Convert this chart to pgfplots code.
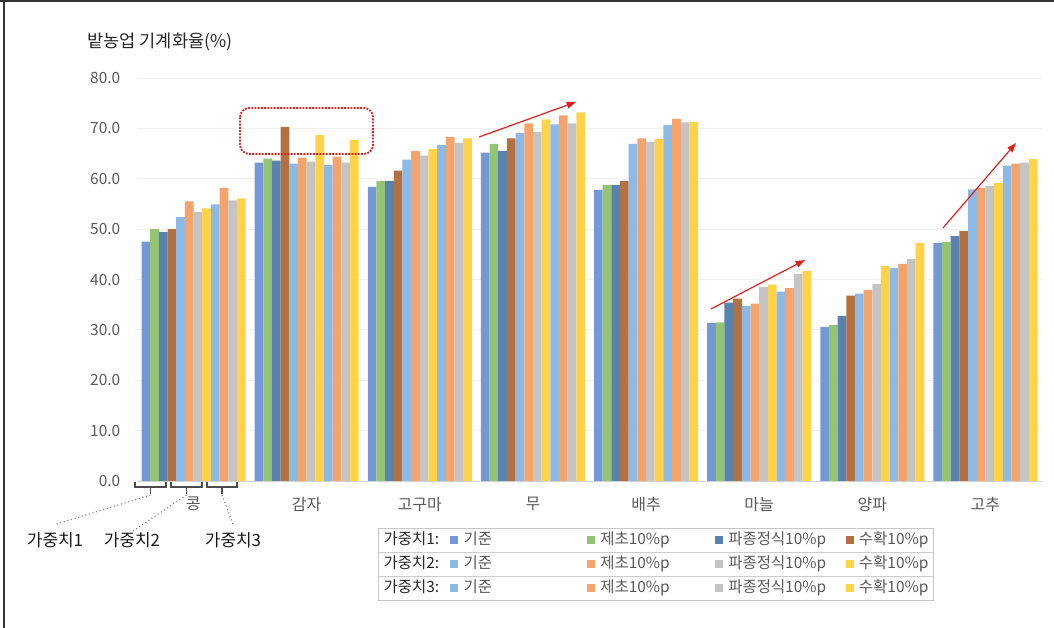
\documentclass[border=0pt]{standalone}
\usepackage{fontspec}
\setmainfont{Noto Sans CJK KR}
\usepackage{pgfplots}
\pgfplotsset{compat=1.18}
\usetikzlibrary{arrows.meta}
\definecolor{c1}{HTML}{7498D6}
\definecolor{c2}{HTML}{93C474}
\definecolor{c3}{HTML}{5783AE}
\definecolor{c4}{HTML}{B3713F}
\definecolor{c5}{HTML}{8DB9E6}
\definecolor{c6}{HTML}{F4A36B}
\definecolor{c7}{HTML}{C4C4C4}
\definecolor{c8}{HTML}{FFD248}
\definecolor{tickgray}{HTML}{595959}
\definecolor{arrred}{HTML}{E0201E}
\pgfplotsset{
  mybar/.style={ybar, bar width=0.0767, bar shift=#1, draw=none},
  legsq/.style={legend image code/.code={\fill[##1] (0pt,-3pt) rectangle (6pt,3pt);}},
}
\newcommand{\lab}[1]{\addlegendimage{empty legend}\addlegendentry[text width=48pt,text=black!85]{#1}}
\begin{document}
\begin{tikzpicture}
\useasboundingbox (0,0) rectangle (790.5pt,471pt);
\begin{axis}[
  at={(102.75pt,110.25pt)}, anchor=south west,
  scale only axis, width=678.75pt, height=302.25pt,
  xmin=-0.5, xmax=7.5, ymin=0, ymax=80,
  axis x line*=bottom, axis y line*=left,
  x axis line style={draw=gray!35,-}, y axis line style={draw=none},
  major tick length=0pt,
  ytick={0,10,...,80},
  yticklabel={\pgfmathprintnumber[fixed,fixed zerofill,precision=1]{\tick}},
  /pgf/number format/assume math mode=true,
  yticklabel style={text=tickgray, font=\fontsize{11.6}{13}\selectfont, xshift=-9pt},
  ymajorgrids, grid style={draw=gray!12, line width=0.6pt},
  xtick={0,...,7},
  xticklabels={콩,감자,고구마,무,배추,마늘,양파,고추},
  xticklabel style={text=tickgray, font=\fontsize{12}{14}\selectfont, yshift=-8.5pt},
  legsq,
  legend columns=5,
  legend cell align=left,
  legend style={at={(0.2663,-0.1166)}, anchor=north west, draw=gray!45, line width=0.5pt,
    font=\fontsize{11.6}{13}\selectfont, text=tickgray,
    inner xsep=0pt, inner ysep=0pt, column sep=0pt, row sep=0pt,
    /tikz/every odd column/.append style={column sep=2pt},
    nodes={inner xsep=2pt, inner ysep=3.8pt, text height=8pt, text depth=2.4pt}},
]
\lab{가중치1:}
\addplot[mybar=-0.42185, fill=c1] coordinates {(0,47.5) (1,63.2) (2,58.4) (3,65.2) (4,57.8) (5,31.4) (6,30.6) (7,47.2)};
\addlegendentry[text width=90.5pt]{기준}
\addplot[mybar=-0.34515, fill=c2] coordinates {(0,50.0) (1,64.0) (2,59.6) (3,66.9) (4,58.8) (5,31.5) (6,31.0) (7,47.4)};
\addlegendentry[text width=84pt]{제초10\%p}
\addplot[mybar=-0.26845, fill=c3] coordinates {(0,49.4) (1,63.6) (2,59.6) (3,65.5) (4,58.8) (5,35.4) (6,32.8) (7,48.6)};
\addlegendentry[text width=86pt]{파종정식10\%p}
\addplot[mybar=-0.19175, fill=c4] coordinates {(0,50.0) (1,70.3) (2,61.6) (3,68.0) (4,59.6) (5,36.2) (6,36.8) (7,49.6)};
\addlegendentry[text width=53.5pt]{수확10\%p}
\lab{가중치2:}
\addplot[mybar=-0.11505, fill=c5] coordinates {(0,52.4) (1,63.0) (2,63.8) (3,69.1) (4,66.9) (5,34.7) (6,37.2) (7,57.9)};
\addlegendentry[text width=90.5pt]{기준}
\addplot[mybar=-0.03835, fill=c6] coordinates {(0,55.5) (1,64.2) (2,65.5) (3,71.0) (4,68.0) (5,35.2) (6,37.9) (7,58.2)};
\addlegendentry[text width=84pt]{제초10\%p}
\addplot[mybar=0.03835, fill=c7] coordinates {(0,53.4) (1,63.4) (2,64.6) (3,69.3) (4,67.3) (5,38.5) (6,39.1) (7,58.6)};
\addlegendentry[text width=86pt]{파종정식10\%p}
\addplot[mybar=0.11505, fill=c8] coordinates {(0,54.1) (1,68.7) (2,65.9) (3,71.8) (4,67.9) (5,39.0) (6,42.7) (7,59.2)};
\addlegendentry[text width=53.5pt]{수확10\%p}
\lab{가중치3:}
\addplot[mybar=0.19175, fill=c5] coordinates {(0,54.9) (1,62.7) (2,66.7) (3,70.8) (4,70.7) (5,37.6) (6,42.3) (7,62.6)};
\addlegendentry[text width=90.5pt]{기준}
\addplot[mybar=0.26845, fill=c6] coordinates {(0,58.2) (1,64.4) (2,68.3) (3,72.6) (4,71.9) (5,38.3) (6,43.1) (7,63.0)};
\addlegendentry[text width=84pt]{제초10\%p}
\addplot[mybar=0.34515, fill=c7] coordinates {(0,55.7) (1,63.2) (2,67.1) (3,71.0) (4,71.2) (5,41.1) (6,44.1) (7,63.2)};
\addlegendentry[text width=86pt]{파종정식10\%p}
\addplot[mybar=0.42185, fill=c8] coordinates {(0,56.1) (1,67.7) (2,68.0) (3,73.2) (4,71.3) (5,41.7) (6,47.2) (7,63.9)};
\addlegendentry[text width=53.5pt]{수확10\%p}
\end{axis}
\begin{scope}[x=0.75pt, y=-0.75pt, shift={(0pt,471pt)}]
  % frame
  \draw[black!80, line width=1.5pt] (0,1.5) -- (1054,1.5);
  \draw[black!80, line width=1.5pt] (4,0) -- (4,628);
  % title
  \node[anchor=west, text=black!85, font=\fontsize{13.2}{15}\selectfont, inner sep=0pt] at (87,42) {밭농업 기계화율(\%)};
  % legend row separators
  \draw[gray!40, line width=0.5pt] (378,552) -- (933,552);
  \draw[gray!40, line width=0.5pt] (378,576) -- (933,576);
  % red dotted box
  \draw[arrred, densely dotted, line width=1.4pt, rounded corners=7pt] (240,108) rectangle (373,154);
  % arrows
  \draw[arrred, line width=0.9pt, -{Triangle[length=7pt,width=5pt]}] (479,137) -- (576,102);
  \draw[arrred, line width=0.9pt, -{Triangle[length=7pt,width=5pt]}] (711,309) -- (805,260);
  \draw[arrred, line width=0.9pt, -{Triangle[length=7pt,width=5pt]}] (943,228) -- (1016,143);
  % brackets
  \begin{scope}[draw=black!70, line width=0.9pt]
    \draw (135,482) -- (135,487) -- (166,487) -- (166,482); \draw (150.5,487) -- (150.5,494);
    \draw (171,482) -- (171,487) -- (202,487) -- (202,482); \draw (186.5,487) -- (186.5,494);
    \draw (207,482) -- (207,487) -- (237,487) -- (237,482); \draw (222,487) -- (222,494);
  \end{scope}
  \begin{scope}[draw=black!55, dotted, line width=0.8pt]
    \draw (150.5,495) -- (57,524);
    \draw (186.5,495) -- (133,531);
    \draw (222,495) -- (233,524);
  \end{scope}
  \node[text=black!90, font=\fontsize{12.7}{15}\selectfont] at (55,540) {가중치1};
  \node[text=black!90, font=\fontsize{12.7}{15}\selectfont] at (132,540) {가중치2};
  \node[text=black!90, font=\fontsize{12.7}{15}\selectfont] at (233,540) {가중치3};
\end{scope}
\end{tikzpicture}
\end{document}
